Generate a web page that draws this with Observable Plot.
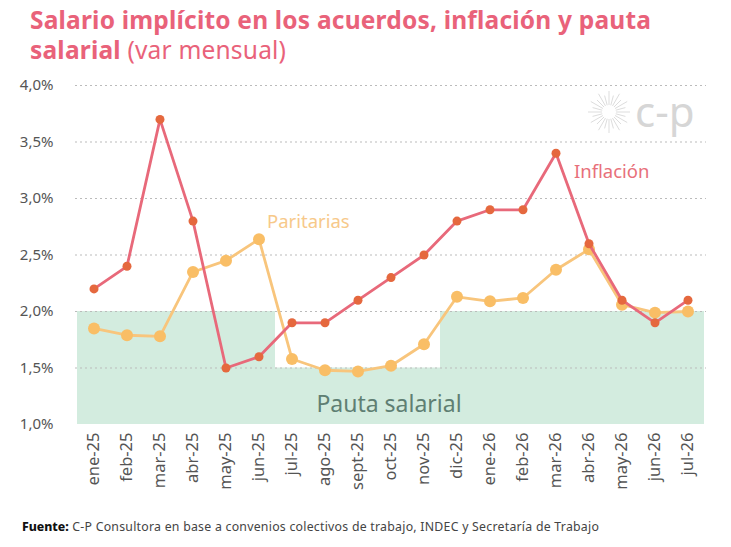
<!DOCTYPE html>
<html>
<head>
<meta charset="utf-8">
<script src="https://cdn.jsdelivr.net/npm/d3@7"></script>
<script src="https://cdn.jsdelivr.net/npm/@observablehq/plot@0.6"></script>
<style>
  html, body { margin: 0; padding: 0; background: #fff; }
  body { width: 731px; height: 547px; position: relative; overflow: hidden; font-family: "Noto Sans", "Open Sans", sans-serif; }
  #title { position: absolute; left: 30px; top: 5px; width: 700px; font-size: 24.5px; line-height: 30px; font-weight: 700; color: #e9627a; letter-spacing: 0.2px; white-space: nowrap; }
  #title span { font-weight: 400; }
  #chart { position: absolute; left: 0; top: 68px; }
  #logo { position: absolute; left: 585px; top: 86px; pointer-events: none; }
  #footer { position: absolute; left: 22px; top: 518px; font-size: 12.3px; color: #444; letter-spacing: 0.25px; white-space: nowrap; }
  #footer b { color: #111; font-weight: 800; letter-spacing: 0; }
</style>
</head>
<body>
<div id="title">Salario implícito en los acuerdos, inflación y pauta<br>salarial <span>(var mensual)</span></div>
<div id="chart"></div>
<svg id="logo" width="50" height="54"></svg>
<div id="footer"><b>Fuente:</b> C-P Consultora en base a convenios colectivos de trabajo, INDEC y Secretaría de Trabajo</div>
<script>
const months = ["ene-25","feb-25","mar-25","abr-25","may-25","jun-25","jul-25","ago-25","sept-25","oct-25","nov-25","dic-25","ene-26","feb-26","mar-26","abr-26","may-26","jun-26","jul-26"];
const inflacion = [2.2,2.4,3.7,2.8,1.5,1.6,1.9,1.9,2.1,2.3,2.5,2.8,2.9,2.9,3.4,2.6,2.1,1.9,2.1];
const paritarias = [1.85,1.79,1.78,2.35,2.45,2.64,1.58,1.48,1.47,1.52,1.71,2.13,2.09,2.12,2.37,2.55,2.06,1.99,2.0];
const pauta = [2.0,2.0,2.0,2.0,2.0,2.0,1.5,1.5,1.5,1.5,1.5,2.0,2.0,2.0,2.0,2.0,2.0,2.0,2.0];
const yTicks = [1.0,1.5,2.0,2.5,3.0,3.5,4.0];
const baseline = 1.0;

const data = months.map((m, i) => ({m, inflacion: inflacion[i], paritarias: paritarias[i], pauta: pauta[i]}));
const fmt = d => d.toFixed(1).replace(".", ",") + "%";

const chart = Plot.plot({
  width: 731,
  height: 445,
  marginLeft: 75,
  marginRight: 25,
  marginTop: 17,
  marginBottom: 89,
  style: {fontFamily: "Noto Sans, sans-serif", background: "transparent"},
  x: {type: "band", domain: months, padding: 0, label: null},
  y: {domain: [1, 4], label: null},
  marks: [
    Plot.barY(data, {x: "m", y1: () => baseline, y2: "pauta", fill: "#d3ecdf", inset: 0}),
    Plot.ruleY(yTicks.slice(1), {stroke: "#bbb", strokeDasharray: "2,3", strokeWidth: 1}),
    Plot.axisY({ticks: yTicks, tickFormat: fmt, tickSize: 0, tickPadding: 22, fontSize: 15, fill: "#555", textAnchor: "end"}),
    Plot.axisX({tickSize: 0, tickRotate: -90, tickPadding: 8, fontSize: 16.5, fill: "#555"}),
    Plot.text(["c-p"], {frameAnchor: "top-right", text: d => d, dx: -12, dy: 12, fontSize: 42, fill: "#d6d6d6", lineAnchor: "top"}),
    Plot.line(data, {x: "m", y: "paritarias", stroke: "#f8c57c", strokeWidth: 2.8}),
    Plot.dot(data, {x: "m", y: "paritarias", r: 6, fill: "#f9be66", stroke: "none"}),
    Plot.line(data, {x: "m", y: "inflacion", stroke: "#e8697a", strokeWidth: 2.8}),
    Plot.dot(data, {x: "m", y: "inflacion", r: 4.5, fill: "#e5683e", stroke: "none"}),
    Plot.text(["Paritarias"], {x: () => "jun-25", y: () => 2.79, text: d => d, dx: 8, textAnchor: "start", fontSize: 18.5, fill: "#f7c98a"}),
    Plot.text(["Inflación"], {x: () => "mar-26", y: () => 3.23, text: d => d, dx: 18, textAnchor: "start", fontSize: 18.5, fill: "#e8707a"}),
    Plot.text(["Pauta salarial"], {x: () => "oct-25", y: () => 1.18, text: d => d, dx: -2, fontSize: 23, fill: "#5f7f73"})
  ]
});
document.getElementById("chart").appendChild(chart);

// logo sunburst
const logo = d3.select("#logo");
const cx = 24, cy = 26;
d3.range(24).forEach(i => {
  const a = i * Math.PI * 2 / 24;
  logo.append("line")
    .attr("x1", cx + 7 * Math.cos(a)).attr("y1", cy + 7 * Math.sin(a))
    .attr("x2", cx + (i % 2 ? 17 : 21) * Math.cos(a)).attr("y2", cy + (i % 2 ? 17 : 21) * Math.sin(a))
    .attr("stroke", "#ddd").attr("stroke-width", 1);
});
</script>
</body>
</html>
